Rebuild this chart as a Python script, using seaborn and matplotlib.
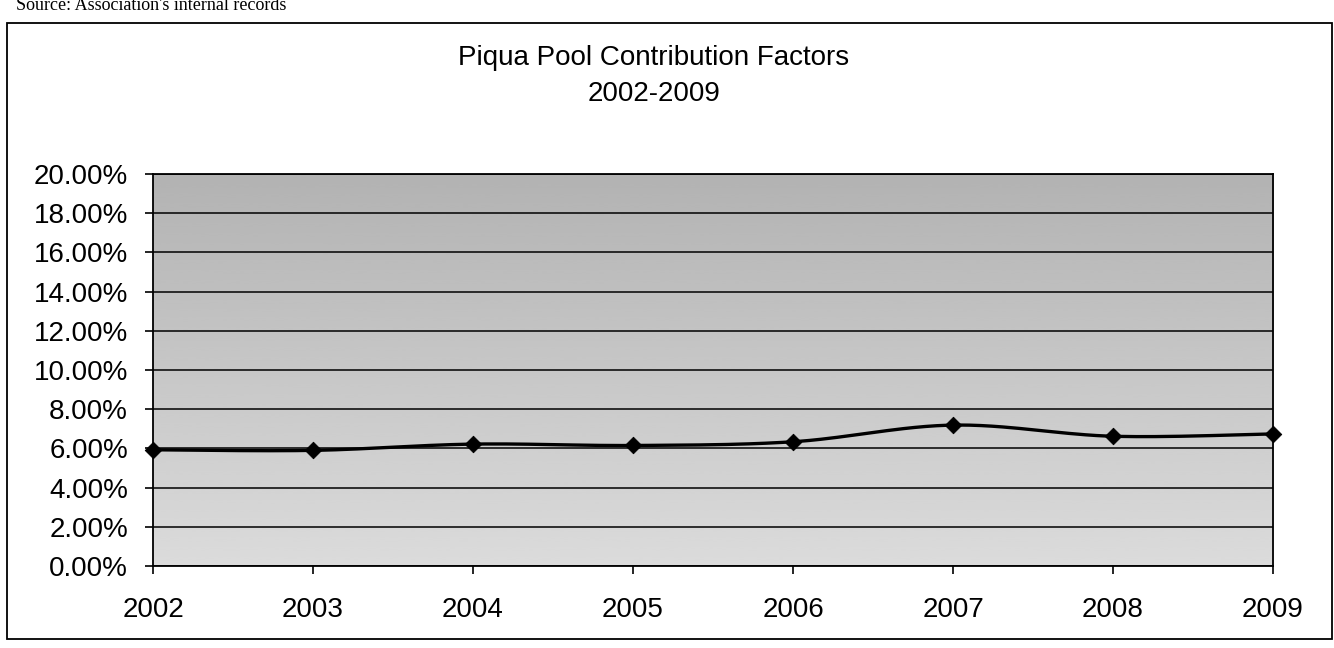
import numpy as np
import pandas as pd
import seaborn as sns
import matplotlib.pyplot as plt
from matplotlib.patches import Rectangle
from matplotlib.ticker import FuncFormatter

years = [2002, 2003, 2004, 2005, 2006, 2007, 2008, 2009]
factors = [5.93, 5.90, 6.22, 6.15, 6.34, 7.19, 6.62, 6.74]
y_ticks = [0, 2, 4, 6, 8, 10, 12, 14, 16, 18, 20]

title_line1 = "Piqua Pool Contribution Factors"
title_line2 = "2002-2009"
source_note = "Source: Association's internal records"


def smooth_path(xs, ys, steps=30):
    # Excel-style smoothed line: Catmull-Rom through the data points
    px = np.concatenate([[xs[0]], xs, [xs[-1]]]).astype(float)
    py = np.concatenate([[ys[0]], ys, [ys[-1]]]).astype(float)
    out_x, out_y = [], []
    t = np.linspace(0, 1, steps)
    for i in range(1, len(px) - 2):
        p0, p1, p2, p3 = (np.array([px[j], py[j]]) for j in (i - 1, i, i + 1, i + 2))
        c1 = p1 + (p2 - p0) / 6.0
        c2 = p2 - (p3 - p1) / 6.0
        for tt in t:
            b = ((1 - tt) ** 3) * p1 + 3 * ((1 - tt) ** 2) * tt * c1 \
                + 3 * (1 - tt) * tt ** 2 * c2 + tt ** 3 * p2
            out_x.append(b[0])
            out_y.append(b[1])
    return np.array(out_x), np.array(out_y)


sns.set_theme(style="white")
plt.rcParams["font.family"] = ["Liberation Sans", "DejaVu Sans"]
plt.rcParams["text.color"] = "black"

df = pd.DataFrame({"year": years, "factor": factors})
sx, sy = smooth_path(df["year"].values, df["factor"].values)
curve = pd.DataFrame({"year": sx, "factor": sy})

fig = plt.figure(figsize=(13.34, 6.48), dpi=100)
ax = fig.add_axes([0.1147, 0.1265, 0.8396, 0.605])

# shaded plot area (scanned halftone), a bit darker towards the top
shade = np.linspace(0.86, 0.70, 200).reshape(-1, 1)
ax.imshow(shade, extent=[2002, 2009, 0, 20], aspect="auto", cmap="gray",
          vmin=0, vmax=1, origin="lower", zorder=0, interpolation="bicubic")

for v in y_ticks:
    ax.axhline(v, color="black", lw=1.1, zorder=1)

sns.lineplot(data=curve, x="year", y="factor", ax=ax, color="black", lw=2.4,
             sort=False, estimator=None, zorder=3)
sns.scatterplot(data=df, x="year", y="factor", ax=ax, marker="D", s=70,
                color="black", edgecolor="black", zorder=4, clip_on=False)

ax.set_xlim(2002, 2009)
ax.set_ylim(0, 20)
ax.set_xticks(years)
ax.set_yticks(y_ticks)
ax.yaxis.set_major_formatter(FuncFormatter(lambda v, p: f"{v:.2f}%"))
ax.set_xlabel("")
ax.set_ylabel("")
ax.tick_params(axis="both", labelsize=20, colors="black", labelcolor="black",
               direction="out", length=6, width=1.2)
ax.tick_params(axis="x", pad=16)
ax.tick_params(axis="y", pad=12)
ax.tick_params(left=True, bottom=True)
for s in ax.spines.values():
    s.set_visible(True)
    s.set_color("black")
    s.set_linewidth(1.3)

fig.text(0.49, 0.91, title_line1, ha="center", va="center", fontsize=20, color="black")
fig.text(0.49, 0.855, title_line2, ha="center", va="center", fontsize=20, color="black")
fig.text(0.012, 1.004, source_note, ha="left", va="top", fontsize=13, color="black",
         family=["Liberation Serif", "DejaVu Serif"])

fig.patches.append(Rectangle((0.0053, 0.014), 0.993, 0.951, transform=fig.transFigure,
                             fill=False, edgecolor="black", lw=1.3))

fig.savefig("out.png", dpi=100)
